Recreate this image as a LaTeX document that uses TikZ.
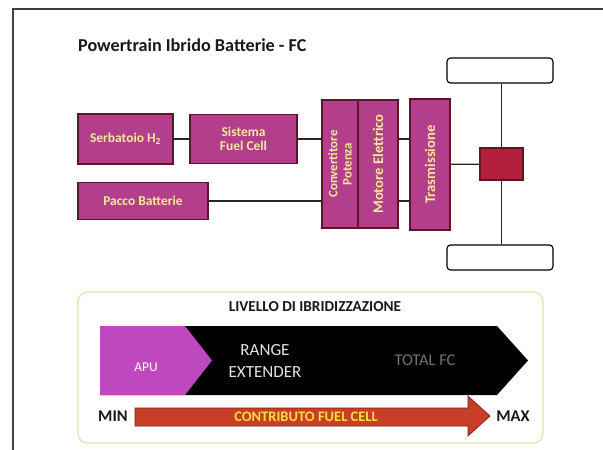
\documentclass[tikz,border=0pt]{standalone}
\usepackage{fontspec}
\setmainfont{Carlito}
\usepackage{tikz}
\usetikzlibrary{positioning, calc}

\definecolor{partfill}{RGB}{178,62,140}
\definecolor{partline}{RGB}{95,20,40}
\definecolor{parttext}{RGB}{245,232,150}
\definecolor{hubfill}{RGB}{178,32,62}
\definecolor{apufill}{RGB}{190,72,190}
\definecolor{fcarrow}{RGB}{200,62,38}
\definecolor{fctext}{RGB}{248,222,60}
\definecolor{panelline}{RGB}{225,228,170}

\begin{document}
\begin{tikzpicture}[
            x=0.03cm, y=-0.03cm,
            font=\fontsize{11.5}{13}\selectfont,
            part/.style={draw=partline, line width=1.2pt, fill=partfill, text=parttext,
                         font=\fontsize{11.5}{12.5}\selectfont\bfseries, align=center, inner sep=1pt},
            vpart/.style={part, minimum width=1.2cm, minimum height=3.84cm},
            vtext/.style={rotate=90, align=center, text=parttext, font=\fontsize{11.5}{12.5}\selectfont\bfseries},
            wheel/.style={draw, rounded corners=3pt, line width=1pt, fill=white,
                          minimum width=3.18cm, minimum height=0.75cm},
            link/.style={line width=1.1pt, black!85},
            heading/.style={font=\fontsize{13}{15}\selectfont\bfseries, text=black!90}
        ]
            \useasboundingbox (0,0) rectangle (603,450);
            \fill[white] (0,0) rectangle (603,450);
            \draw[line width=1.2pt, black!75] (13,450) -- (13,9) -- (603,9);

            \node[heading, font=\fontsize{15.5}{17}\selectfont\bfseries, anchor=west] (title) at (74,45)
                {Powertrain Ibrido Batterie - FC};

            \node[part, minimum width=2.85cm, minimum height=1.5cm] (tank) at (125.5,139) {Serbatoio H\textsubscript{2}};
            \node[part, minimum width=3.21cm, minimum height=1.47cm] (fc) at (243.5,139) {Sistema\\Fuel Cell};
            \node[part, minimum width=3.9cm, minimum height=1.11cm] (batt) at (143,201) {Pacco Batterie};

            \node[vpart, minimum width=1.08cm, label={[vtext, font=\fontsize{11}{12}\selectfont\bfseries]center:Convertitore\\Potenza}]
                  (conv) at (340,164) {};
            \node[vpart, label={[vtext, font=\fontsize{12.5}{13}\selectfont\bfseries]center:Motore Elettrico}]
                  (motor) at (378,164) {};
            \node[vpart, minimum height=3.93cm, label={[vtext, font=\fontsize{12.5}{13}\selectfont\bfseries]center:Trasmissione}]
                  (trans) at (430,164.5) {};

            \node[part, fill=hubfill, minimum width=1.29cm, minimum height=0.96cm] (hub) at (501.5,164) {};
            \node[wheel] (wtop) at (500,70.5) {};
            \node[wheel] (wbot) at (500,257.5) {};

            \draw[link] (tank) -- (fc);
            \draw[link] (fc.east) -- (fc.east -| conv.west);
            \draw[link] (batt.east) -- (batt.east -| conv.west);
            \draw[link] (motor.east |- fc.east) -- (trans.west |- fc.east);
            \draw[link] (motor.east |- batt.east) -- (trans.west |- batt.east);
            \draw[link] (trans) -- (hub);
            \draw[link] (hub.north) -- (hub.north |- wtop.south);
            \draw[link] (hub.south) -- (hub.south |- wbot.north);

            \draw[panelline, line width=1pt, rounded corners=8pt] (78,292) rectangle (543,443);
            \node[heading] (level) at (315,307) {LIVELLO DI IBRIDIZZAZIONE};

            \fill[black] (100,326) -- (497,326) -- (528,360.5) -- (497,395) -- (100,395) -- cycle;
            \fill[apufill] (100,326) -- (185,326) -- (212,360.5) -- (185,395) -- (100,395) -- cycle;
            \node[text=white, font=\fontsize{11.5}{13}\selectfont] (apu) at (146,367) {APU};
            \node[text=black!10, align=center, font=\fontsize{14.5}{18}\selectfont] (range) at (265,361) {RANGE\\EXTENDER};
            \node[text=black!55, font=\fontsize{14}{16}\selectfont] (total) at (425,360) {TOTAL FC};

            \filldraw[fill=fcarrow, draw=fcarrow!60!black, line width=0.6pt]
                (135,408) -- (468,408) -- (468,396) -- (490,416) -- (468,436) -- (468,426) -- (135,426) -- cycle;
            \node[text=fctext, font=\fontsize{12.4}{14}\selectfont\bfseries] (contrib) at (306,417) {CONTRIBUTO FUEL CELL};
            \node[heading, font=\fontsize{14}{16}\selectfont\bfseries] (min) at (113,416) {MIN};
            \node[heading, font=\fontsize{14}{16}\selectfont\bfseries] (max) at (513,416) {MAX};
        \end{tikzpicture}
\end{document}
